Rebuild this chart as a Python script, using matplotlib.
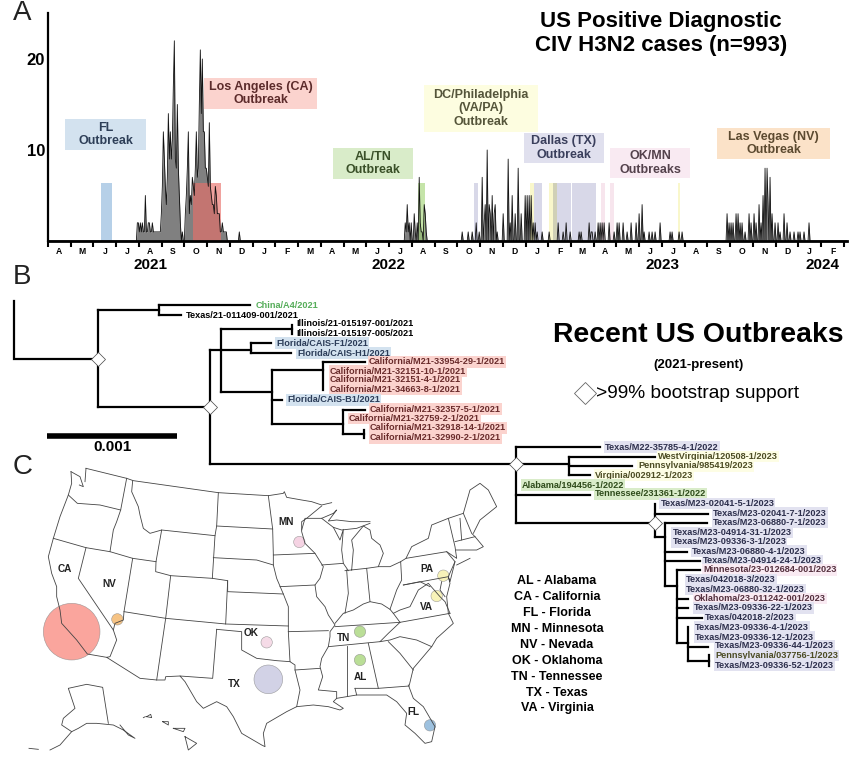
#!/usr/bin/env python3
"""Canine influenza outbreaks: case timeline, phylogeny and map."""

import matplotlib
matplotlib.use("Agg")
import matplotlib.pyplot as plt
import numpy as np
from matplotlib.patches import Circle, Rectangle

plt.rcParams['font.family'] = ['Liberation Sans', 'DejaVu Sans']

W, H = 864, 759

# ---- Panel A data: one time bin is 1/22.75 of a month
month_letters = list("AMJJASONDJFMAMJJASONDJFMAMJJASONDJF")
year_labels = ['2021', '2022', '2023', '2024']
year_bins = [150, 389, 663, 823]

burst_a_start = 137
burst_a = [2, 2, 1, 2, 1, 2, 1, 1, 5, 1, 1, 2, 2, 1, 1, 2, 1, 1, 1, 1, 1, 1, 1, 1]
burst_b_start = 161
burst_b = [3, 6, 12, 9, 6, 4, 7, 14, 9, 12, 9, 11, 17, 22, 9, 8, 15, 8, 5, 2, 0, 1]
burst_c_start = 185
burst_c = [3, 5, 8, 12, 3, 5, 4, 7, 6, 5, 8, 12, 7, 8, 15, 21, 14, 20, 12, 12, 8,
           8, 7, 6, 13, 6, 5, 4, 4, 3, 6, 5, 3, 3, 3, 1, 1, 2, 1, 1, 1, 1]
sparse_bins = [239, 405, 406, 407, 408, 409, 411, 414, 415, 417, 419, 420, 421, 422,
               424, 425, 426, 462, 468, 472, 476, 479, 482, 484, 485, 487, 489, 490,
               492, 494, 495, 497, 503, 508, 510, 512, 515, 518, 521, 525, 527, 529,
               531, 533, 535, 537, 542, 549, 558, 563, 566, 570, 579, 581, 589, 591,
               592, 595, 598, 600, 602, 604, 609, 614, 617, 619, 623, 627, 631, 636,
               639, 642, 644, 649, 652, 655, 660, 670, 672, 679, 682, 727, 729, 731,
               733, 736, 738, 740, 742, 745, 749, 751, 754, 756, 759, 761, 763, 765,
               767, 768, 770, 772, 775, 778, 780, 784, 787, 790, 794, 798, 800, 804,
               809]
sparse_n = [1, 2, 1, 4, 1, 2, 2, 3, 1, 2, 7, 2, 1, 1,
            4, 3, 1, 1, 1, 1, 2, 1, 7, 2, 4, 10, 4, 3,
            5, 3, 4, 1, 3, 9, 2, 5, 3, 8, 3, 5, 5, 5,
            5, 2, 2, 1, 1, 1, 2, 1, 2, 1, 1, 1, 2, 1,
            1, 1, 2, 2, 2, 2, 2, 1, 2, 2, 2, 1, 2, 2,
            3, 4, 1, 1, 1, 1, 2, 1, 1, 1, 1, 3, 2, 2,
            2, 3, 3, 2, 2, 1, 3, 2, 3, 2, 4, 2, 5, 8,
            8, 4, 7, 3, 2, 2, 1, 3, 2, 1, 1, 1, 1, 1,
            2]

outbreak_start = [101, 193, 418, 474, 530, 534, 549, 553, 557, 572, 601, 610, 678]
outbreak_end = [112, 221, 425, 478, 534, 542, 553, 557, 571, 596, 605, 614, 680]
outbreak_color = ['#8fb8dc', '#e8706a', '#a6d67c', '#c4c4dc', '#f7f3b0', '#c4c4dc',
                  '#f7f3b0', '#b8b890', '#c4c4dc', '#c4c4dc', '#f3d8e4', '#f3d8e4',
                  '#f7f3b0']
outbreak_top = 6.35

# ---- Panel A callouts
callout_text = ['FL\nOutbreak', 'Los Angeles (CA)\nOutbreak', 'AL/TN\nOutbreak',
                'DC/Philadelphia\n(VA/PA)\nOutbreak', 'Dallas (TX)\nOutbreak',
                'OK/MN\nOutbreaks', 'Las Vegas (NV)\nOutbreak']
callout_box = [(65, 119, 146, 150), (204, 78, 317, 109), (333, 148, 413, 179),
               (424, 85, 538, 132), (524, 133, 604, 163), (610, 148, 690, 178),
               (717, 128, 830, 159)]
callout_face = ['#d3e2ef', '#fbd3ce', '#d9ecc9', '#fdfde0', '#e0e0ee', '#f9eaf2', '#fbe2c8']
callout_ink = ['#2e3f58', '#5c2b2b', '#3a5028', '#55553a', '#3a3f5c', '#54424c', '#5c4a30']

# ---- Panel B data
tree_lines = [
    [(14, 301), (14, 359), (98, 359)], [(98, 310), (98, 407)], [(98, 310), (159, 310)],
    [(159, 305), (159, 315)], [(159, 305), (250, 305)], [(159, 315), (181, 315)],
    [(98, 407), (210, 407)], [(210, 350), (210, 464)], [(210, 350), (220.5, 350)],
    [(220.5, 329), (220.5, 392)], [(220.5, 329), (292, 329)], [(292, 325), (292, 334)],
    [(220.5, 350), (251, 350)], [(251, 343), (251, 353)], [(251, 343), (271, 343)],
    [(251, 353), (291, 353)], [(220.5, 392), (272, 392)], [(272, 370), (272, 424)],
    [(272, 370), (323, 370)], [(323, 362), (323, 390)], [(323, 362), (365, 362)],
    [(272, 400), (282, 400)], [(272, 424), (343, 424)], [(343, 410), (343, 434)],
    [(343, 410), (365, 410)], [(343, 434), (364, 434)], [(364, 430), (364, 438)],
    [(210, 464), (516, 464)], [(516, 447), (516, 523)], [(516, 447), (600, 447)],
    [(516, 464), (569, 464)], [(569, 457), (569, 475)], [(569, 457), (655, 457)],
    [(569, 466), (632, 466)], [(569, 475), (590, 475)], [(516, 495), (590, 495)],
    [(516, 523), (655, 523)], [(655, 504), (655, 537)], [(655, 514), (708, 514)],
    [(655, 537), (665, 537)], [(665, 523), (665, 586)], [(665, 523), (707, 523)],
    [(665, 552), (687, 552)], [(665, 561), (700, 561)], [(665, 586), (677, 586)],
    [(677, 570), (677, 643)], [(677, 570), (700, 570)], [(677, 599), (688, 599)],
    [(677, 608), (688, 608)], [(677, 618), (702, 618)], [(677, 643), (688, 643)],
    [(688, 627), (688, 661)], [(688, 647), (708, 647)], [(688, 661), (709, 661)],
    [(709, 655), (709, 666)],
]
tree_nodes = [(98, 359), (210, 407), (516, 464), (655, 523)]

black_tips = ['Texas/21-011409-001/2021', 'Illinois/21-015197-001/2021',
              'Illinois/21-015197-005/2021']
black_x = [185.5, 296, 296]
black_y = [315, 324, 334]

tip_names = ['China/A4/2021', 'Florida/CAIS-F1/2021', 'Florida/CAIS-H1/2021',
             'California/M21-33954-29-1/2021', 'California/M21-32151-10-1/2021',
             'California/M21-32151-4-1/2021', 'California/M21-34663-8-1/2021',
             'Florida/CAIS-B1/2021', 'California/M21-32357-5-1/2021',
             'California/M21-32759-2-1/2021', 'California/M21-32918-14-1/2021',
             'California/M21-32990-2-1/2021', 'Texas/M22-35785-4-1/2022',
             'WestVirginia/120508-1/2023', 'Pennsylvania/985419/2023',
             'Virginia/002912-1/2023', 'Alabama/194456-1/2022', 'Tennessee/231361-1/2022',
             'Texas/M23-02041-5-1/2023', 'Texas/M23-02041-7-1/2023',
             'Texas/M23-06880-7-1/2023', 'Texas/M23-04914-31-1/2023',
             'Texas/M23-09336-3-1/2023', 'Texas/M23-06880-4-1/2023',
             'Texas/M23-04914-24-1/2023', 'Minnesota/23-012684-001/2023',
             'Texas/042018-3/2023', 'Texas/M23-06880-32-1/2023',
             'Oklahoma/23-011242-001/2023', 'Texas/M23-09336-22-1/2023',
             'Texas/042018-2/2023', 'Texas/M23-09336-4-1/2023',
             'Texas/M23-09336-12-1/2023', 'Texas/M23-09336-44-1/2023',
             'Pennsylvania/037756-1/2023', 'Texas/M23-09336-52-1/2023']
tip_x = [256, 276, 297, 369, 330, 330, 330, 287, 370, 349, 370, 370, 605, 658, 638,
         595, 522, 595, 660.5, 713, 713, 672.5, 672.5, 692, 703, 703, 686, 686, 694,
         694, 705, 695, 695, 715, 715, 715]
tip_y = [305, 343, 353, 362, 371, 380, 389, 400, 409, 418.5, 428, 438, 447, 456.7,
         466, 475, 485, 494, 503.5, 513, 522.5, 532.5, 542, 551, 560.5, 570, 580,
         589.5, 598.5, 608, 617.5, 627, 637, 646, 655.5, 665]
tip_group = ['china', 'fl', 'fl', 'ca', 'ca', 'ca', 'ca', 'fl', 'ca', 'ca', 'ca', 'ca',
             'tx', 'dc', 'dc', 'dc', 'al', 'al', 'tx', 'tx', 'tx', 'tx', 'tx', 'tx', 'tx',
             'mn', 'tx', 'tx', 'mn', 'tx', 'tx', 'tx', 'tx', 'tx', 'pa', 'tx']
group_face = {'china': 'none', 'fl': '#d3e2ef', 'ca': '#fbd3ce', 'tx': '#e2e2f0',
              'dc': '#fdfde4', 'al': '#d9ecc9', 'mn': '#f9eaf2', 'pa': '#e2e2f0'}
group_ink = {'china': '#56ad5a', 'fl': '#2b3c58', 'ca': '#6a2c2c', 'tx': '#2d2f4c',
             'dc': '#4c4c24', 'al': '#2f4c1c', 'mn': '#54303e', 'pa': '#4c4c24'}

# ---- Panel C data, traced on a 1500 x 927 sheet
map_lines = [
    # northern border and lake superior
    [(258, 55), (380, 85), (400, 92), (655, 128), (805, 137), (850, 130), (853, 125),
     (860, 142), (905, 150), (935, 155), (965, 165), (995, 158)],
    [(965, 168), (920, 205), (905, 215), (905, 245), (915, 280), (945, 310)],
    [(905, 240), (915, 205), (945, 205), (965, 205), (1000, 190), (1010, 180), (985, 213),
     (1010, 210), (1055, 215), (1110, 215)],
    [(1000, 232), (1025, 240), (1070, 235), (1110, 220)],
    [(965, 205), (1000, 232), (1020, 270), (1030, 238), (1025, 300), (1030, 340), (1045, 362)],
    [(965, 345), (1030, 340)],
    [(1055, 360), (1060, 300), (1055, 270), (1090, 228), (1110, 240), (1115, 265),
     (1140, 285), (1150, 310), (1135, 350), (1100, 355), (1035, 362)],
    # pacific coast
    [(213, 65), (215, 100), (205, 135), (180, 200), (160, 265), (145, 320), (155, 370),
     (170, 410), (170, 440), (180, 480), (185, 520), (230, 570), (262, 612), (320, 622)],
    [(213, 65), (240, 80), (250, 110), (238, 105)],
    [(258, 55), (255, 95)],
    [(205, 135), (232, 160), (300, 165), (362, 180)],
    [(380, 85), (362, 180), (350, 215), (340, 240), (330, 305)],
    [(160, 265), (258, 293), (330, 305), (398, 325), (468, 335)],
    [(258, 293), (235, 385), (340, 540), (350, 570), (330, 620), (320, 622),
     (420, 685), (470, 690), (495, 690), (497, 680), (540, 678)],
    [(398, 325), (372, 485), (370, 510), (345, 520), (340, 540)],
    [(398, 92), (395, 125), (415, 170), (420, 195), (430, 235), (450, 250), (485, 240),
     (468, 335), (467, 365), (512, 377), (497, 505), (372, 485)],
    [(485, 240), (645, 257), (637, 385), (512, 377)],
    [(655, 128), (650, 228), (645, 257)],
    [(640, 323), (770, 330), (820, 345)],
    [(637, 385), (683, 392), (683, 425), (850, 432)],
    [(683, 392), (677, 522), (497, 505), (470, 690)],
    [(677, 522), (865, 528)],
    [(650, 228), (818, 237)],
    [(805, 137), (818, 237), (820, 315), (820, 345), (830, 385), (850, 432), (865, 470),
     (865, 545), (870, 635), (885, 645), (885, 660), (900, 720), (890, 770)],
    [(820, 315), (945, 310), (970, 350), (960, 385), (945, 405), (950, 440), (975, 470),
     (985, 495), (1005, 525), (990, 545), (990, 560), (985, 590), (965, 625), (960, 650),
     (968, 680), (955, 720), (1010, 725), (1010, 745)],
    [(840, 410), (945, 405)],
    [(650, 538), (725, 545), (725, 600), (770, 625), (830, 632), (870, 635)],
    # texas and the gulf coast
    [(650, 538), (638, 685), (540, 678), (555, 695), (590, 755), (610, 775), (650, 755),
     (680, 770), (700, 800), (725, 850), (785, 885), (795, 890), (790, 850), (800, 820),
     (860, 785), (890, 770), (940, 765), (985, 770), (1020, 780), (1030, 775), (1000, 755),
     (1010, 745), (1040, 740), (1070, 735), (1065, 715)],
    [(885, 660), (960, 655)],
    [(865, 545), (985, 542)],
    [(1040, 588), (1040, 738)],
    [(1005, 530), (1200, 517), (1350, 490)],
    [(985, 590), (1140, 575), (1165, 550), (1200, 517)],
    [(1040, 360), (1045, 430), (1035, 490)],
    [(1100, 355), (1110, 455)],
    [(1135, 350), (1170, 350), (1202, 335), (1205, 390), (1190, 420), (1170, 478),
     (1180, 490), (1200, 517)],
    [(1005, 520), (1030, 490), (1060, 480), (1090, 462), (1110, 455), (1145, 462), (1170, 478)],
    [(1180, 490), (1200, 480), (1230, 470), (1255, 420), (1285, 400), (1320, 440),
     (1335, 455), (1350, 490)],
    [(1210, 405), (1260, 395), (1290, 410)],
    [(1202, 335), (1218, 325), (1340, 305), (1365, 335), (1345, 380), (1210, 405)],
    [(1218, 325), (1235, 290), (1285, 265), (1295, 225), (1345, 205), (1365, 290),
     (1370, 325), (1340, 305)],
    [(1345, 205), (1390, 190), (1415, 250), (1425, 260)],
    [(1380, 205), (1385, 270)],
    [(1365, 275), (1425, 260), (1450, 290), (1430, 300), (1368, 300)],
    [(1370, 345), (1410, 325)],
    [(1390, 190), (1410, 120), (1440, 100), (1465, 120), (1490, 170), (1440, 210), (1420, 250)],
    [(1365, 335), (1350, 395), (1345, 380), (1350, 400), (1340, 440), (1345, 490)],
    [(1325, 395), (1320, 420), (1335, 440)],
    # atlantic side and florida
    [(1345, 490), (1360, 520), (1310, 565), (1295, 590), (1240, 655), (1228, 705)],
    [(1140, 575), (1170, 570), (1200, 560), (1250, 570), (1295, 590)],
    [(1165, 575), (1200, 610), (1240, 660)],
    [(1105, 580), (1135, 715)],
    [(1065, 715), (1135, 715), (1228, 708)],
    [(1225, 705), (1240, 745), (1270, 770), (1305, 830), (1295, 875), (1275, 880),
     (1245, 850), (1215, 825), (1220, 790), (1190, 755), (1160, 735), (1110, 735), (1070, 735)],
    # alaska and hawaii
    [(325, 820), (308, 712), (260, 703), (205, 715), (215, 745), (225, 775), (190, 805),
     (185, 825), (215, 845), (235, 835), (260, 820), (290, 820), (340, 825), (370, 840),
     (405, 865), (385, 855), (360, 825)],
    [(215, 845), (180, 885), (150, 900)],
    [(87, 895), (115, 898)],
    [(430, 803), (436, 800)],
    [(440, 800), (452, 793), (455, 803), (440, 800)],
    [(488, 815), (505, 815), (505, 825), (488, 815)],
    [(520, 835), (555, 835), (550, 845), (520, 835)],
    [(555, 860), (590, 880), (565, 900), (555, 860)],
]
map_circle_x = [215, 352, 898, 800, 805, 1080, 1080, 1290, 1330, 1310]
map_circle_y = [545, 508, 276, 577, 688, 545, 630, 826, 377, 438]
map_circle_r = [85, 17, 17, 17, 43, 17, 17, 17, 17, 17]
map_circle_c = ['#f98f85', '#f4b566', '#f3c9dc', '#f3d3e2', '#c7c7e0', '#a9d67d',
                '#a9d67d', '#85b2d8', '#f7f1a8', '#f7f1a8']
state_labels = ['CA', 'NV', 'MN', 'OK', 'TX', 'TN', 'AL', 'FL', 'PA', 'VA']
state_x = [195, 327, 858, 754, 702, 1030, 1082, 1240, 1280, 1280]
state_y = [357, 402, 217, 550, 703, 563, 680, 787, 356, 470]

key_lines = ['AL - Alabama', 'CA - California', 'FL - Florida', 'MN - Minnesota',
             'NV - Nevada', 'OK - Oklahoma', 'TN - Tennessee', 'TX - Texas', 'VA - Virginia']
key_y = [581, 597, 613, 629, 645, 661, 677, 693, 708]

fig = plt.figure(figsize=(W / 100, H / 100), dpi=100)

# Map sits under everything else.
ax_map = fig.add_axes([0, 0, 500 / W, 309 / H])
ax_map.set_xlim(0, 1500)
ax_map.set_ylim(927, 0)
ax_map.axis('off')
for line in map_lines:
    xs, ys = zip(*line)
    ax_map.plot(xs, ys, color='#444444', lw=0.6, clip_on=False, zorder=5)
for x, y, r, c in zip(map_circle_x, map_circle_y, map_circle_r, map_circle_c):
    ax_map.add_patch(Circle((x, y), r, fc=c, ec='#888888', lw=0.4, alpha=0.8, zorder=3))
for s, x, y in zip(state_labels, state_x, state_y):
    ax_map.text(x, y, s, fontsize=7.2, fontweight='bold', ha='center', va='center',
                color='#222222', zorder=6)

# Panel A: timeline.
ax = fig.add_axes([48 / W, (H - 241) / H, (847 - 48) / W, 228 / H])
ax.set_xlim(48, 847)
ax.set_ylim(0, 25.05)
ax.patch.set_alpha(0)
counts = np.zeros(W)
counts[burst_a_start:burst_a_start + len(burst_a)] = burst_a
counts[burst_b_start:burst_b_start + len(burst_b)] = burst_b
counts[burst_c_start:burst_c_start + len(burst_c)] = burst_c
counts[sparse_bins] = sparse_n
bins = np.arange(W)
ax.fill_between(bins, counts, color='#808080', lw=0)
ax.plot(bins, counts, color='#111111', lw=0.6)
for start, end, c in zip(outbreak_start, outbreak_end, outbreak_color):
    ax.add_patch(Rectangle((start, 0), end - start, outbreak_top, fc=c, ec='none', alpha=0.65))
edges = 47.6 + 22.75 * np.arange(36)
ax.set_xticks(edges, [''] * 36)
ax.set_xticks(edges[:-1] + 11.4, month_letters, minor=True)
ax.tick_params(axis='x', which='major', length=4, width=1.5, color='black')
ax.tick_params(axis='x', which='minor', length=0, pad=4.5, labelsize=6.2)
for lab in ax.get_xticklabels(minor=True):
    lab.set_fontweight('bold')
ax.set_yticks([10, 20], ['10', '20'])
ax.tick_params(axis='y', length=0, pad=2, labelsize=12)
for lab in ax.get_yticklabels():
    lab.set_fontweight('bold')
ax.spines[['top', 'right']].set_visible(False)
ax.spines['left'].set_linewidth(1.6)
ax.spines['bottom'].set_linewidth(2)

# Everything else is placed in image pixels.
over = fig.add_axes([0, 0, 1, 1])
over.set_xlim(0, W)
over.set_ylim(H, 0)
over.axis('off')
over.patch.set_alpha(0)

for label, x in zip(year_labels, year_bins):
    over.text(x, 265, label, fontsize=11, fontweight='bold', ha='center', va='center')
for s, (x0, y0, x1, y1), face, ink in zip(callout_text, callout_box, callout_face, callout_ink):
    over.add_patch(Rectangle((x0, y0), x1 - x0, y1 - y0, fc=face, ec='none', zorder=2))
    over.text((x0 + x1) / 2, (y0 + y1) / 2, s, fontsize=9, fontweight='bold', color=ink,
              ha='center', va='center', linespacing=1.2, zorder=3)

over.text(661, 22, 'US Positive Diagnostic', fontsize=16, fontweight='bold',
          ha='center', va='center')
over.text(661, 45, 'CIV H3N2 cases (n=993)', fontsize=16, fontweight='bold',
          ha='center', va='center')

for s, x, y in zip('ABC', [22.5, 22, 23], [13, 277, 467]):
    over.text(x, y, s, fontsize=20, ha='center', va='center', color='#222222')

for line in tree_lines:
    xs, ys = zip(*line)
    over.plot(xs, ys, color='black', lw=1.6, solid_capstyle='projecting',
              solid_joinstyle='miter', zorder=4)
nx, ny = zip(*tree_nodes)
over.plot(nx, ny, 'D', ms=6.8, mfc='white', mec='#444444', mew=0.5, zorder=6)
for s, x, y in zip(black_tips, black_x, black_y):
    over.text(x, y, s, fontsize=6.55, fontweight='bold', color='black', ha='left',
              va='center', zorder=5)
for s, x, y, g in zip(tip_names, tip_x, tip_y, tip_group):
    over.text(x, y, s, fontsize=6.55, fontweight='bold', color=group_ink[g], ha='left',
              va='center', zorder=5,
              bbox=dict(boxstyle='square,pad=0.12', fc=group_face[g], ec='none'))

over.plot([47, 177], [436, 436], color='black', lw=4, solid_capstyle='butt')
over.text(112, 447, '0.001', fontsize=11, fontweight='bold', ha='center', va='center')

over.text(698, 335, 'Recent US Outbreaks', fontsize=20.4, fontweight='bold',
          ha='center', va='center')
over.text(698, 365, '(2021-present)', fontsize=9.5, fontweight='bold', ha='center', va='center')
over.plot([585], [393], 'D', ms=11, mfc='white', mec='#666666', mew=0.6)
over.text(596, 393, '>99% bootstrap support', fontsize=13.8, ha='left', va='center')

for s, y in zip(key_lines, key_y):
    over.text(557, y, s, fontsize=9, fontweight='bold', ha='center', va='center')

fig.savefig('out.png', dpi=100)
